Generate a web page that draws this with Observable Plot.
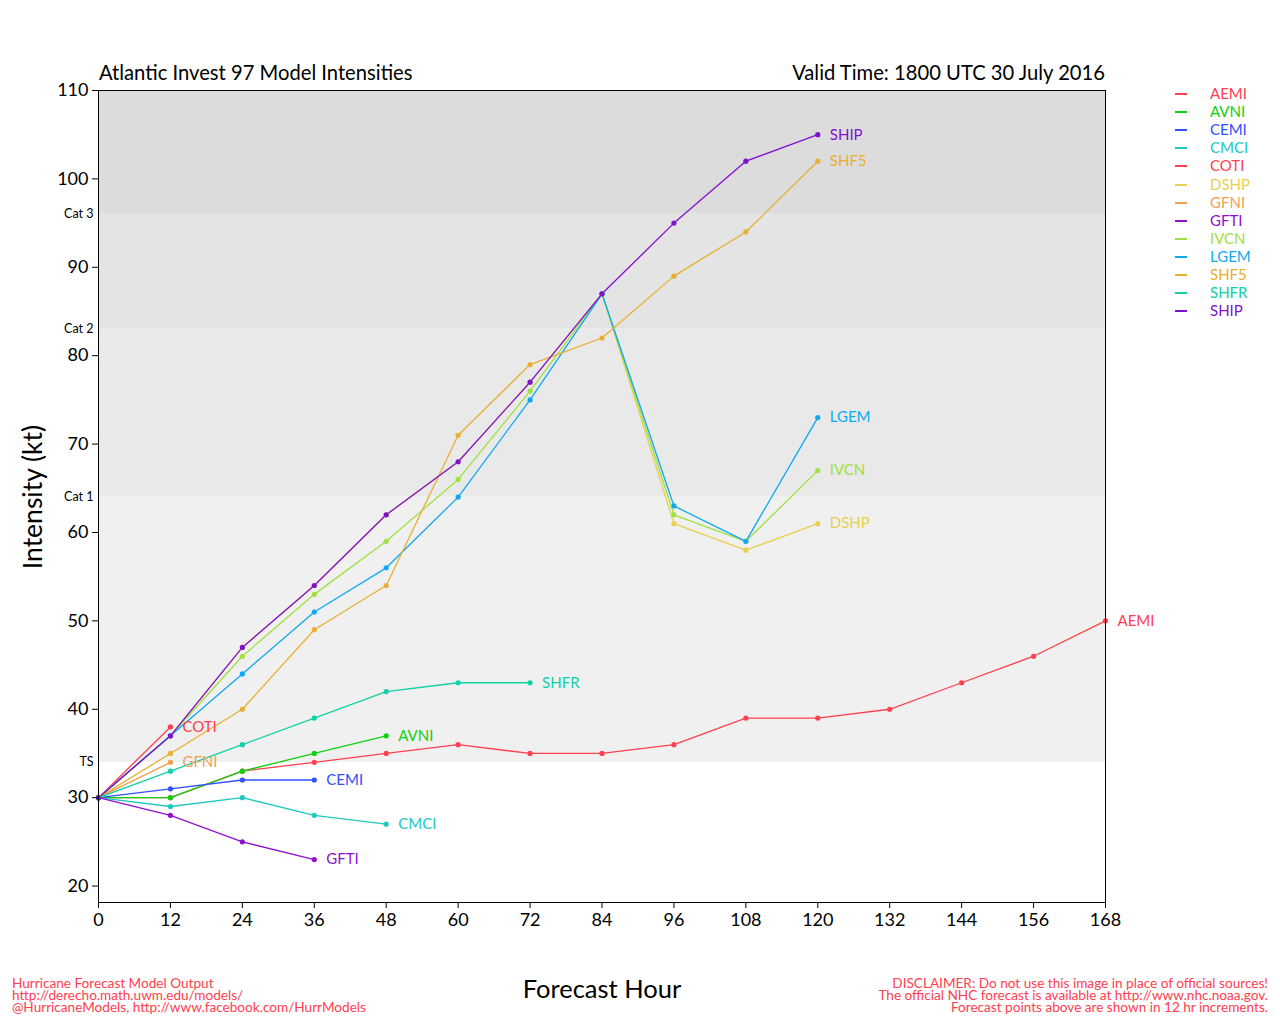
<!DOCTYPE html>
<html>
<head>
<meta charset="utf-8">
<script src="https://cdn.jsdelivr.net/npm/d3@7"></script>
<script src="https://cdn.jsdelivr.net/npm/@observablehq/plot@0.6"></script>
<style>
  body { margin: 0; background: #fff; font-family: Lato, "DejaVu Sans", sans-serif; }
  #wrap { position: relative; width: 1280px; height: 1024px; }
  #wrap svg { position: absolute; left: 0; top: 0; }
  .abs { position: absolute; white-space: nowrap; }
  .legrow { position: absolute; left: 1175px; height: 18px; }
  .legline { position: absolute; left: 0; top: 8px; width: 12px; height: 2px; }
  .legtxt { position: absolute; left: 35px; top: -1px; font-size: 15px; line-height: 18px; }
  .foot { font-size: 13.6px; line-height: 12px; color: #ff4050; }
</style>
</head>
<body>
<div id="wrap"></div>
<script>
// ---- data ----
const hours = [0, 12, 24, 36, 48, 60, 72, 84, 96, 108, 120, 132, 144, 156, 168];
const models = ["AEMI", "AVNI", "CEMI", "CMCI", "COTI", "DSHP", "GFNI", "GFTI", "IVCN", "LGEM", "SHF5", "SHFR", "SHIP"];
const colors = ["#ff4050", "#10d010", "#3050ff", "#20c8c0", "#ff4050", "#e8d050", "#f0a050", "#9010d0", "#a0e040", "#10a8f0", "#e8b030", "#10d0a8", "#8010d0"];
const AEMI = [30, 30, 33, 34, 35, 36, 35, 35, 36, 39, 39, 40, 43, 46, 50];
const AVNI = [30, 30, 33, 35, 37];
const CEMI = [30, 31, 32, 32];
const CMCI = [30, 29, 30, 28, 27];
const COTI = [30, 38];
const DSHP = [30, 37, 47, 54, 62, 68, 77, 87, 61, 58, 61];
const GFNI = [30, 34];
const GFTI = [30, 28, 25, 23];
const IVCN = [30, 37, 46, 53, 59, 66, 76, 87, 62, 59, 67];
const LGEM = [30, 37, 44, 51, 56, 64, 75, 87, 63, 59, 73];
const SHF5 = [30, 35, 40, 49, 54, 71, 79, 82, 89, 94, 102];
const SHFR = [30, 33, 36, 39, 42, 43, 43];
const SHIP = [30, 37, 47, 54, 62, 68, 77, 87, 95, 102, 105];
const seriesValues = [AEMI, AVNI, CEMI, CMCI, COTI, DSHP, GFNI, GFTI, IVCN, LGEM, SHF5, SHFR, SHIP];

const bandLow = [34, 64, 83, 96];
const bandHigh = [64, 83, 96, 110];
const bandFill = ["#f0f0f0", "#e9e9e9", "#e4e4e4", "#dcdcdc"];
const catNames = ["TS", "Cat 1", "Cat 2", "Cat 3"];
const yTicks = [20, 30, 40, 50, 60, 70, 80, 90, 100, 110];
const xTicks = [0, 12, 24, 36, 48, 60, 72, 84, 96, 108, 120, 132, 144, 156, 168];

// ---- build tables ----
const pts = [];
const lastPts = [];
models.forEach((m, i) => {
  const vals = seriesValues[i];
  vals.forEach((v, j) => pts.push({model: m, h: hours[j], v, order: i}));
  lastPts.push({model: m, h: hours[vals.length - 1], v: vals[vals.length - 1]});
});
const bands = bandLow.map((lo, i) => ({lo, hi: bandHigh[i], fill: bandFill[i], name: catNames[i]}));
const colorScale = {domain: models, range: colors};

const plot = Plot.plot({
  width: 1280,
  height: 1024,
  marginLeft: 98,
  marginRight: 175,
  marginTop: 90,
  marginBottom: 122,
  style: {fontFamily: "Lato, sans-serif", background: "transparent", color: "#000"},
  x: {domain: [0, 168]},
  y: {domain: [18.14, 110]},
  color: colorScale,
  marks: [
    Plot.rect(bands, {y1: "lo", y2: "hi", fill: "fill"}),
    Plot.text(bands, {y: "lo", text: "name", frameAnchor: "left", dx: -5, textAnchor: "end", fontSize: 12.5, fill: "#000"}),
    ...models.map(m => Plot.line(pts.filter(d => d.model === m), {x: "h", y: "v", stroke: "model", strokeWidth: 1.3})),
    ...models.map(m => Plot.dot(pts.filter(d => d.model === m), {x: "h", y: "v", fill: "model", r: 2.6})),
    Plot.text(lastPts, {x: "h", y: "v", text: "model", fill: "model", dx: 12, textAnchor: "start", fontSize: 15}),
    Plot.axisY({ticks: yTicks, tickSize: 6, tickPadding: 4, fontSize: 18, label: null}),
    Plot.axisX({ticks: xTicks, tickSize: 6, tickPadding: 5, fontSize: 18, label: null}),
    Plot.frame({stroke: "#000", strokeWidth: 1})
  ]
});

const wrap = document.getElementById("wrap");
wrap.appendChild(plot);

function addDiv(html, style, cls) {
  const d = document.createElement("div");
  d.className = "abs " + (cls || "");
  d.innerHTML = html;
  Object.assign(d.style, style);
  wrap.appendChild(d);
  return d;
}
addDiv("Atlantic Invest 97 Model Intensities", {left: "99px", top: "60px", fontSize: "20.2px"});
addDiv("Valid Time: 1800 UTC 30 July 2016", {right: "175px", top: "60px", fontSize: "20.2px"});
addDiv("Intensity (kt)", {left: "32px", top: "497px", fontSize: "26.5px", transform: "translate(-50%,-50%) rotate(-90deg)"});
addDiv("Forecast Hour", {left: "602px", top: "988px", fontSize: "25.5px", transform: "translate(-50%,-50%)"});
addDiv("Hurricane Forecast Model Output<br>http://derecho.math.uwm.edu/models/<br>@HurricaneModels, http://www.facebook.com/HurrModels",
  {left: "12px", top: "977px"}, "foot");
addDiv("DISCLAIMER: Do not use this image in place of official sources!<br>The official NHC forecast is available at http://www.nhc.noaa.gov.<br>Forecast points above are shown in 12 hr increments.",
  {right: "12px", top: "977px", textAlign: "right"}, "foot");

models.forEach((m, i) => {
  const row = document.createElement("div");
  row.className = "legrow";
  row.style.top = (85 + i * 18.1) + "px";
  row.innerHTML = `<div class="legline" style="background:${colors[i]}"></div><div class="legtxt" style="color:${colors[i]}">${m}</div>`;
  wrap.appendChild(row);
});
</script>
</body>
</html>
